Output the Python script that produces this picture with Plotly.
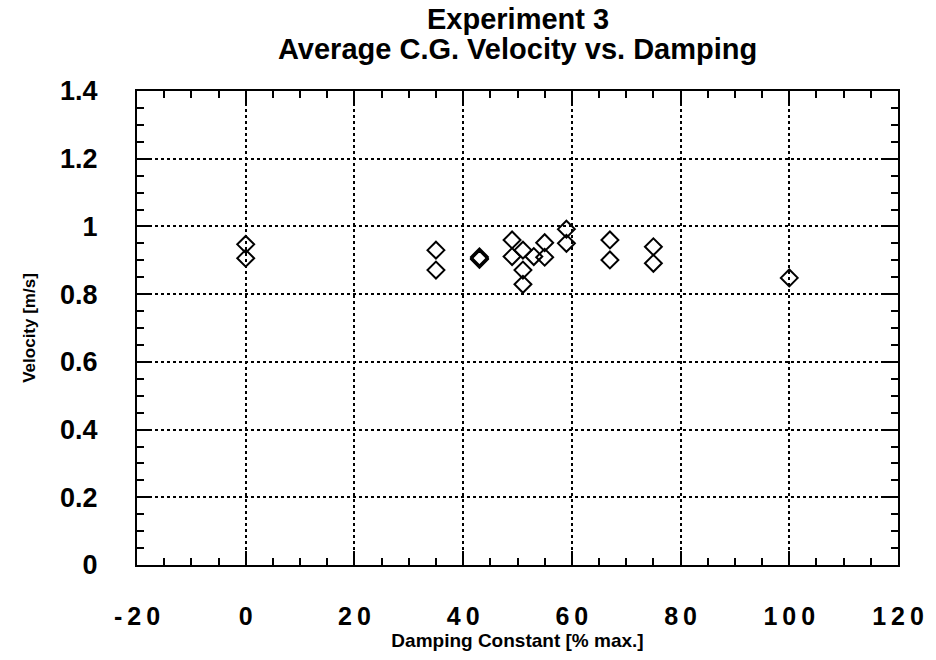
import plotly.graph_objects as go

damping = [0, 0, 35, 35, 43, 43, 43, 49, 49, 51, 51, 51, 53, 55, 55, 59, 59, 67, 67, 75, 75, 100]
velocity = [0.947, 0.906, 0.930, 0.871, 0.906, 0.910, 0.903, 0.960, 0.911, 0.930, 0.871, 0.829,
            0.911, 0.952, 0.909, 0.992, 0.950, 0.960, 0.901, 0.940, 0.891, 0.848]

x_ticks = [-20, 0, 20, 40, 60, 80, 100, 120]
x_tick_labels = ["-20", "0", "20", "40", "60", "80", "100", "120"]
y_ticks = [0, 0.2, 0.4, 0.6, 0.8, 1.0, 1.2, 1.4]
y_tick_labels = ["0", "0.2", "0.4", "0.6", "0.8", "1", "1.2", "1.4"]

title_lines = ["Experiment 3", "Average C.G. Velocity vs. Damping"]
x_title = "Damping Constant [% max.]"
y_title = "Velocity [m/s]"

FONT = "Liberation Sans"
THIN = "\u2009"


def spaced(s):
    return THIN.join(list(s))


fig = go.Figure()
fig.add_trace(go.Scatter(
    x=damping, y=velocity, mode="markers",
    marker=dict(symbol="diamond-open", size=13, color="black", line=dict(width=2, color="black")),
    showlegend=False,
))

fig.update_layout(
    width=936, height=660,
    margin=dict(l=137, r=33, t=91, b=95),
    paper_bgcolor="white", plot_bgcolor="white",
    font=dict(family=FONT, color="black"),
)

for i, line in enumerate(title_lines):
    fig.add_annotation(
        text="<b>" + line + "</b>", xref="paper", yref="paper", x=0.5, y=1,
        xanchor="center", yanchor="middle", yshift=[72, 42][i], showarrow=False,
        font=dict(family=FONT, size=29, color="black"),
    )

fig.update_xaxes(
    range=[-20, 120], tickvals=x_ticks, ticktext=[spaced(t) for t in x_tick_labels],
    showline=True, linecolor="black", linewidth=2, mirror="allticks",
    ticks="inside", ticklen=14, tickwidth=2, tickcolor="black",
    showgrid=True, gridcolor="black", griddash="dot", gridwidth=1.5,
    zeroline=False,
    minor=dict(dtick=5, ticks="inside", ticklen=7, tickwidth=2, tickcolor="black", showgrid=False),
    tickfont=dict(family=FONT, size=25, color="black", weight="bold"),
    ticklabelstandoff=28,
    title=dict(text="<b>" + x_title + "</b>", font=dict(family=FONT, size=19, color="black"), standoff=0),
)
fig.update_yaxes(
    range=[0, 1.4], tickvals=y_ticks, ticktext=y_tick_labels,
    showline=True, linecolor="black", linewidth=2, mirror="allticks",
    ticks="inside", ticklen=14, tickwidth=2, tickcolor="black",
    showgrid=True, gridcolor="black", griddash="dot", gridwidth=1.5,
    zeroline=False,
    minor=dict(dtick=0.05, ticks="inside", ticklen=7, tickwidth=2, tickcolor="black", showgrid=False),
    tickfont=dict(family=FONT, size=27, color="black", weight="bold"),
    ticklabelstandoff=32,
    title=dict(text="<b>" + y_title + "</b>", font=dict(family=FONT, size=17, color="black"), standoff=20),
)

fig.write_html("out.html", config={"displayModeBar": False},
               post_script="document.body.style.margin='0';")
